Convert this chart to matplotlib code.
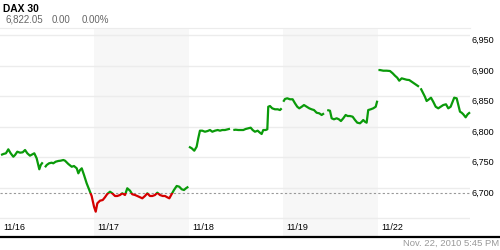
import numpy as np
import matplotlib
matplotlib.use("Agg")
import matplotlib.pyplot as plt
import matplotlib.transforms as mtransforms
from matplotlib.patches import Rectangle
from matplotlib.lines import Line2D

plt.rcParams['font.family'] = ['Liberation Sans', 'DejaVu Sans']

nan = np.nan

# intraday position in trading days since 11/16 open, gaps = missing quotes
times = [
    0.011, 0.035, 0.063, 0.088, 0.113, 0.141, 0.159, 0.183, 0.212, 0.240, 0.265, 0.289, 0.317,
    0.342, 0.363, 0.388, 0.416, 0.431, 0.452, 0.463, 0.476, 0.494, 0.519, 0.547, 0.564, 0.589,
    0.617, 0.642, 0.670, 0.688, 0.723, 0.759, 0.783, 0.812, 0.829, 0.847, 0.865, 0.889, 0.917,
    0.945, 0.970, 0.995, 1.013,
    1.030, 1.058, 1.087, 1.111, 1.135, 1.164, 1.188, 1.217, 1.241, 1.270, 1.294, 1.323, 1.347,
    1.376, 1.400, 1.429, 1.453, 1.481, 1.506, 1.534, 1.559, 1.587, 1.612, 1.640, 1.665, 1.693,
    1.722, 1.746, 1.770, 1.792, 1.817, 1.841, 1.870, 1.897, 1.923, 1.947, 1.968, 1.993, 1.996,
    2.000, 2.029, 2.056, 2.081, 2.098, 2.116, 2.141, 2.169, 2.198, 2.222, 2.247, 2.275, 2.304,
    2.328, 2.352, 2.381, 2.410, 2.434, 2.450, 2.469, 2.494, 2.522, 2.550, 2.575, 2.600, 2.628,
    2.653, 2.674, 2.698, 2.727, 2.751, 2.769, 2.786, 2.812, 2.829, 2.839, 2.857, 2.881, 2.910,
    2.939, 2.963, 2.981, 2.989,
    2.998, 3.016, 3.040, 3.069, 3.097, 3.122, 3.146, 3.167, 3.193, 3.217, 3.246, 3.273, 3.298,
    3.323, 3.351, 3.379, 3.404, 3.429, 3.447, 3.463, 3.492, 3.510, 3.534, 3.563, 3.587, 3.608,
    3.633, 3.658, 3.679, 3.704, 3.732, 3.757, 3.781, 3.810, 3.828, 3.844, 3.862, 3.880, 3.897,
    3.923, 3.950, 3.976, 3.993, 3.998,
    4.005, 4.021, 4.056, 4.092, 4.127, 4.156, 4.180, 4.204, 4.225, 4.251, 4.275, 4.304, 4.331,
    4.357, 4.381, 4.410, 4.434, 4.442, 4.452, 4.473, 4.497, 4.515, 4.540, 4.561, 4.585, 4.611,
    4.638, 4.663, 4.691, 4.720, 4.744, 4.769, 4.790, 4.807, 4.833, 4.850, 4.868, 4.886, 4.903,
    4.928, 4.949, 4.974,
]
prices = [
    6753.6, 6755.2, 6756.4, 6762.9, 6756.4, 6750.8, 6753.6, 6759.0, 6757.4, 6758.0, 6761.8, 6756.4, 6752.5,
    6754.7, 6756.4, 6748.2, 6730.2, 6737.2, 6741.6, nan, 6733.5, 6737.2, 6740.0, 6741.0, 6740.0, 6742.6,
    6743.8, 6744.3, 6745.4, 6744.3, 6738.9, 6734.4, 6735.6, 6731.8, 6723.6, 6729.0, 6731.8, 6720.9, 6707.3,
    6696.3, 6686.5, 6669.0, 6660.8,
    6674.5, 6678.8, 6679.9, 6684.4, 6689.8, 6693.5, 6690.9, 6686.5, 6686.5, 6688.1, 6690.9, 6688.1, 6699.1,
    6695.2, 6689.3, 6688.1, 6686.5, 6684.4, 6682.7, 6686.5, 6690.9, 6686.5, 6686.5, 6688.1, 6691.9, 6688.1,
    6686.5, 6686.5, 6684.4, 6682.7, 6689.8, 6696.3, 6702.9, 6701.7, 6697.5, 6696.3, 6699.1, 6701.7, nan,
    6767.2, 6764.6, 6760.6, 6767.2, 6780.9, 6793.4, 6793.4, 6791.7, 6792.9, 6794.5, 6791.7, 6793.4, 6794.5,
    6793.4, 6794.5, 6794.5, 6795.7, 6796.6, nan, 6794.5, 6795.0, 6794.5, 6794.5, 6794.5, 6796.2, 6797.3,
    6798.3, 6794.5, 6791.7, 6793.4, 6790.1, 6788.0, 6794.5, 6794.5, 6795.7, 6832.6, 6833.8, 6830.0, 6828.4,
    6828.4, 6827.2, 6830.0, nan,
    6840.8, 6845.3, 6846.4, 6844.8, 6844.8, 6838.2, 6832.6, 6830.0, 6832.6, 6835.4, 6832.6, 6830.0, 6828.4,
    6827.2, 6822.8, 6821.8, 6819.1, 6821.8, nan, 6827.2, 6826.1, 6813.7, 6812.0, 6813.7, 6812.0, 6809.2,
    6813.7, 6819.1, 6817.4, 6817.4, 6816.3, 6810.9, 6806.5, 6805.5, 6808.1, 6810.9, 6808.1, 6806.5, 6827.2,
    6828.4, 6830.0, 6832.6, 6842.5, nan,
    6892.7, 6892.7, 6891.6, 6891.6, 6891.1, 6887.3, 6883.4, 6880.1, 6875.2, 6879.1, 6878.0, 6876.8, 6876.3,
    6873.6, 6870.9, 6868.2, 6865.4, nan, 6862.8, 6856.2, 6849.0, 6842.0, 6844.8, 6847.4, 6840.8, 6832.6,
    6830.0, 6832.6, 6835.4, 6836.6, 6830.0, 6832.6, 6840.8, 6847.4, 6846.4, 6835.4, 6824.5, 6822.8, 6820.2,
    6815.3, 6820.2, 6823.5,
]

day_labels = ['11/16', '11/17', '11/18', '11/19', '11/22']
y_ticks = [6700, 6750, 6800, 6850, 6900, 6950]
ref_close = 6690.6
last_price = '6,822.05'
change = '0.00'
change_pct = '0.00%'
timestamp = 'Nov. 22, 2010 5:45 PM'

green = '#0a9a0a'
red = '#d40000'
grid_col = '#ececec'

fig = plt.figure(figsize=(5, 2.5), dpi=100)
ax = fig.add_axes([0, 1 - 236 / 250, 470 / 500, (236 - 28) / 250])

x_max = 4.974
ax.set_xlim(0, x_max)
ax.set_ylim(6621, 6961.5)

# shaded alternate days
for d in (1, 3):
    ax.axvspan(d, d + 1, color='#f7f7f7', lw=0, zorder=0)

for v in [6650] + y_ticks:
    ax.axhline(v, color=grid_col, lw=1, zorder=1)
ax.axhline(ref_close, color='#999999', lw=0.8, ls=(0, (2, 2)), zorder=2)

# green above previous close, red below
above = Rectangle((0, ref_close), 10, 1000, transform=ax.transData)
below = Rectangle((0, ref_close - 1000), 10, 1000, transform=ax.transData)
ln_g, = ax.plot(times, prices, color=green, lw=1.6, zorder=3, solid_capstyle='butt')
ln_r, = ax.plot(times, prices, color=red, lw=1.6, zorder=3, solid_capstyle='butt')
ln_g.set_clip_path(above)
ln_r.set_clip_path(below)

for s in ax.spines.values():
    s.set_visible(False)
ax.spines['top'].set_visible(True)
ax.spines['top'].set_color(grid_col)
ax.set_xticks([])
ax.set_yticks([])

# day labels inside the bottom strip
trans_x = mtransforms.blended_transform_factory(ax.transData, ax.transAxes)
trans_x = mtransforms.offset_copy(trans_x, fig=fig, x=3, y=0, units='dots')
for i, lab in enumerate(day_labels):
    ax.text(i, 8.5 / 208, lab, transform=trans_x, fontsize=6.5, ha='left', va='center', color='black')

# price labels on the right, set just below their gridline
trans_y = mtransforms.blended_transform_factory(ax.transAxes, ax.transData)
trans_y = mtransforms.offset_copy(trans_y, fig=fig, x=2, y=-5.3, units='dots')
for v in y_ticks:
    ax.text(1, v, f'{v:,}', transform=trans_y, fontsize=6.5, ha='left', va='center',
            color='black', clip_on=False)

fig.text(3 / 500, 1 - 8.5 / 250, 'DAX 30', fontsize=7.4, fontweight='bold', ha='left', va='center')
fig.text(5 / 500, 1 - 20 / 250, last_price, fontsize=7, color='#666666', ha='left', va='center')
fig.text(52 / 500, 1 - 20 / 250, change, fontsize=7, color='#666666', ha='left', va='center')
fig.text(82 / 500, 1 - 20 / 250, change_pct, fontsize=7, color='#666666', ha='left', va='center')
fig.text(499 / 500, 1 - 243.5 / 250, timestamp, fontsize=6.8, color='#999999', ha='right', va='center')

fig.add_artist(Line2D([0, 1], [1 - 236.7 / 250] * 2, color='black', lw=1.6, transform=fig.transFigure))

fig.savefig('out.png', dpi=100)
